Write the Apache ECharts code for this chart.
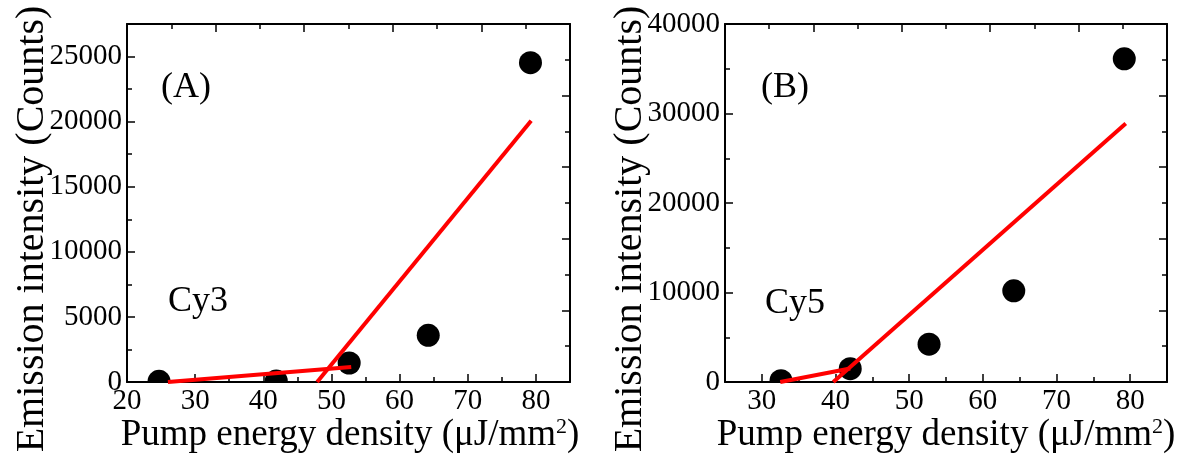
<!DOCTYPE html>
<html>
<head>
    <meta charset="utf-8">
    <title>Cy3 / Cy5 emission</title>
    <script src="https://cdn.jsdelivr.net/npm/echarts@6.0.0/dist/echarts.min.js"></script>
    <style>
        html, body { margin: 0; padding: 0; background: #fff; }
    </style>
</head>
<body>
    <div id="main" style="width: 1180px;height:459px;"></div>
    <script type="text/javascript">
        var myChart = echarts.init(document.getElementById('main'));

        /*--------------------- data ----------------------------*/
        // (A) Cy3
        var cy3X = [24.7, 41.9, 52.6, 64.2, 79.2];
        var cy3Y = [50, 80, 1460, 3590, 24530];
        var cy3Fit1 = [[26.0, 0], [52.9, 1150]];
        var cy3Fit2 = [[47.9, 0], [79.3, 20070]];
        var cy3XTicks = [20, 30, 40, 50, 60, 70, 80];
        var cy3YTicks = [0, 5000, 10000, 15000, 20000, 25000];
        var cy3XMax = 85;
        var cy3YMax = 27500;

        // (B) Cy5
        var cy5X = [32.6, 42.0, 52.7, 64.2, 79.2];
        var cy5Y = [150, 1490, 4220, 10190, 36110];
        var cy5Fit1 = [[32.5, 0], [42.0, 1500]];
        var cy5Fit2 = [[39.7, 0], [79.4, 28870]];
        var cy5XTicks = [30, 40, 50, 60, 70, 80];
        var cy5YTicks = [0, 10000, 20000, 30000, 40000];
        var cy5XMin = 25;
        var cy5XMax = 85;

        var font = 'Liberation Serif';
        var lineStyle = { color: '#000', width: 1.5 };

        function zip(xs, ys) {
            return xs.map(function (x, i) { return [x, ys[i]]; });
        }

        function plain(v) {
            return String(v);
        }

        function mainAxis(gridIndex, pos, min, max, interval, showMin, showMax) {
            return {
                type: 'value',
                gridIndex: gridIndex,
                position: pos,
                min: min,
                max: max,
                interval: interval,
                axisLine: { show: true, onZero: false, lineStyle: { color: '#000', width: 2 } },
                axisTick: { show: true, inside: true, length: 8, lineStyle: lineStyle },
                minorTick: { show: true, splitNumber: 2, length: 5, lineStyle: lineStyle },
                splitLine: { show: false },
                axisLabel: {
                    color: '#000',
                    fontFamily: font,
                    fontSize: 29,
                    margin: pos === 'bottom' ? 5 : 5,
                    showMinLabel: showMin,
                    showMaxLabel: showMax,
                    formatter: plain
                }
            };
        }

        // mirror axes on top / right: ten plain divisions, no labels
        function frameAxis(gridIndex, pos) {
            return {
                type: 'value',
                gridIndex: gridIndex,
                position: pos,
                min: 0,
                max: 10,
                interval: 2,
                axisLine: { show: true, onZero: false, lineStyle: { color: '#000', width: 2 } },
                axisTick: { show: true, inside: true, length: 8, lineStyle: lineStyle },
                minorTick: { show: true, splitNumber: 2, length: 5, lineStyle: lineStyle },
                splitLine: { show: false },
                axisLabel: { show: false }
            };
        }

        // (B) bottom axis starts at 25: scale ticks fall on 25, 35, ... (short)
        // and the minor ticks on 30, 40, ... (long), labels only on the tens
        var cy5XAxis = mainAxis(1, 'bottom', cy5XMin, cy5XMax, 10, true, true);
        cy5XAxis.axisTick.length = 5;
        cy5XAxis.minorTick.length = 8;
        cy5XAxis.axisLabel.customValues = cy5XTicks;

        function dots(xi, yi, data) {
            return {
                type: 'custom',
                xAxisIndex: xi,
                yAxisIndex: yi,
                clip: true,
                z: 2,
                encode: { x: 0, y: 1 },
                data: data,
                renderItem: function (params, api) {
                    var p = api.coord([api.value(0), api.value(1)]);
                    return {
                        type: 'circle',
                        shape: { cx: p[0], cy: p[1], r: 11.5 },
                        style: { fill: '#000' }
                    };
                }
            };
        }

        function fit(xi, yi, data) {
            return {
                type: 'line',
                xAxisIndex: xi,
                yAxisIndex: yi,
                data: data,
                showSymbol: false,
                clip: true,
                z: 3,
                lineStyle: { color: '#ff0000', width: 4 }
            };
        }

        var titleRich = {
            a: { fontFamily: font, fontSize: 37, fill: '#000', color: '#000' },
            s: { fontFamily: font, fontSize: 22, fill: '#000', color: '#000', verticalAlign: 'top', lineHeight: 22 }
        };

        function xTitle(cx) {
            return {
                type: 'text',
                x: cx,
                y: 435,
                style: {
                    text: '{a|Pump energy density (μJ/mm}{s|2}{a|)}',
                    rich: titleRich,
                    align: 'center',
                    verticalAlign: 'middle'
                }
            };
        }

        function yTitle(cx) {
            return {
                type: 'text',
                x: cx,
                y: 229,
                rotation: Math.PI / 2,
                style: {
                    text: 'Emission intensity (Counts)',
                    font: '40px "Liberation Serif"',
                    fill: '#000',
                    align: 'center',
                    verticalAlign: 'middle'
                }
            };
        }

        function label(x, y, txt) {
            return {
                type: 'text',
                x: x,
                y: y,
                style: {
                    text: txt,
                    font: '36px "Liberation Serif"',
                    fill: '#000',
                    align: 'left',
                    verticalAlign: 'middle'
                }
            };
        }

        var option = {
            backgroundColor: '#fff',
            animation: false,
            grid: [
                { left: 127, top: 24, width: 443, height: 358 },
                { left: 725, top: 24, width: 442, height: 358 }
            ],
            xAxis: [
                mainAxis(0, 'bottom', cy3XTicks[0], cy3XMax, cy3XTicks[1] - cy3XTicks[0], true, false),
                frameAxis(0, 'top'),
                cy5XAxis,
                frameAxis(1, 'top')
            ],
            yAxis: [
                mainAxis(0, 'left', cy3YTicks[0], cy3YMax, cy3YTicks[1] - cy3YTicks[0], true, false),
                frameAxis(0, 'right'),
                mainAxis(1, 'left', cy5YTicks[0], cy5YTicks[cy5YTicks.length - 1], cy5YTicks[1] - cy5YTicks[0], true, true),
                frameAxis(1, 'right')
            ],
            graphic: [
                xTitle(350),
                xTitle(946),
                yTitle(32),
                yTitle(630),
                label(161, 88, '(A)'),
                label(168, 302, 'Cy3'),
                label(761, 88, '(B)'),
                label(765, 304, 'Cy5')
            ],
            series: [
                dots(0, 0, zip(cy3X, cy3Y)),
                fit(0, 0, cy3Fit1),
                fit(0, 0, cy3Fit2),
                dots(2, 2, zip(cy5X, cy5Y)),
                fit(2, 2, cy5Fit1),
                fit(2, 2, cy5Fit2)
            ]
        };
        myChart.setOption(option);
    </script>
</body>
</html>
